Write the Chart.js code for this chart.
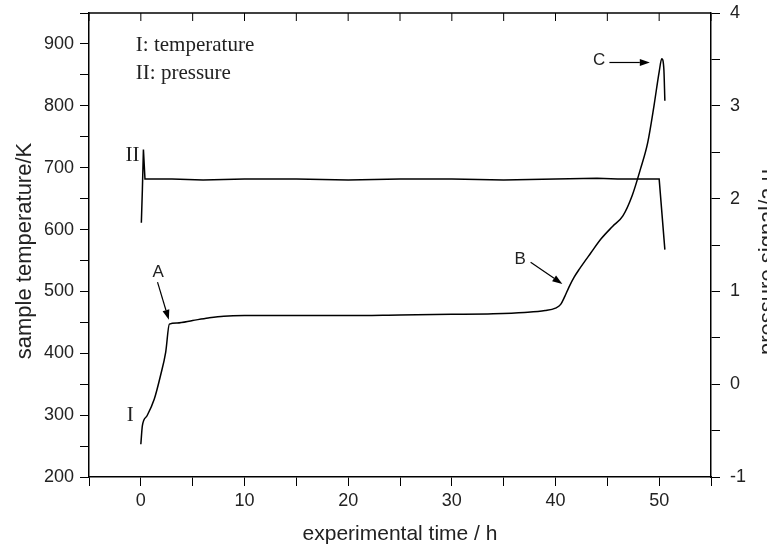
<!DOCTYPE html>
<html><head><meta charset="utf-8">
<script src="https://cdn.jsdelivr.net/npm/chart.js@4.4.0/dist/chart.umd.min.js"></script>
<style>html,body{margin:0;padding:0;background:#fff;overflow:hidden}canvas{display:block}</style>
</head><body><canvas id="c" width="767" height="545"></canvas>
<script>
// ---- data ----
const timeT = [0.0, 0.15, 0.6, 1.3, 1.9, 2.4, 2.75, 3.5, 5, 6.5, 8, 10, 15, 20, 25, 30, 34, 37, 39, 40, 40.5, 40.9, 41.3, 41.8, 42.3, 43.4, 44.4, 45.5, 46.5, 47.4, 48.2, 48.9, 49.5, 50.0, 50.25, 50.45, 50.55];
const tempT = [253, 283, 299, 326, 364, 402, 447, 449, 453, 457, 460, 461, 461, 461, 462, 463, 464, 466, 469, 473, 479, 492, 507, 523, 536, 562, 585, 605, 622, 655, 698, 741, 800, 855, 876, 860, 808];
const timeP = [0.05, 0.15, 0.25, 0.4, 1, 3, 6, 10, 15, 20, 25, 30, 35, 40, 44, 46, 48, 50.0, 50.55];
const pressP = [1.74, 2.1, 2.53, 2.21, 2.21, 2.21, 2.2, 2.21, 2.21, 2.2, 2.21, 2.21, 2.2, 2.21, 2.22, 2.21, 2.21, 2.21, 1.45];
const xTickLabels = [0, 10, 20, 30, 40, 50];
const yTickLabels = [200, 300, 400, 500, 600, 700, 800, 900];
const y2TickLabels = [-1, 0, 1, 2, 3, 4];
const xTitle = 'experimental time / h';
const yTitle = 'sample temperature/K';
const y2Title = 'pressure signal/a.u';
const legendLines = ['I: temperature', 'II: pressure'];

const tempPts = timeT.map((t, i) => ({x: t, y: tempT[i]}));
const pressPts = timeP.map((t, i) => ({x: t, y: pressP[i]}));

const TXT = '#222';
const SANS = '"Liberation Sans", Arial, sans-serif';
const SERIF = '"Liberation Serif", "Times New Roman", serif';

function arrow(ctx, x1, y1, x2, y2) {
  const ang = Math.atan2(y2 - y1, x2 - x1);
  const L = 10, W = 3.5;
  ctx.beginPath(); ctx.moveTo(x1, y1);
  ctx.lineTo(x2 - L * Math.cos(ang), y2 - L * Math.sin(ang)); ctx.stroke();
  ctx.beginPath();
  ctx.moveTo(x2, y2);
  ctx.lineTo(x2 - L * Math.cos(ang) + W * Math.sin(ang), y2 - L * Math.sin(ang) - W * Math.cos(ang));
  ctx.lineTo(x2 - L * Math.cos(ang) - W * Math.sin(ang), y2 - L * Math.sin(ang) + W * Math.cos(ang));
  ctx.closePath(); ctx.fill();
}

const decor = {
  id: 'decor',
  afterDraw(chart) {
    const {ctx, chartArea: a, scales: {x, y, y2}} = chart;
    const X = v => x.getPixelForValue(v), Y = v => y.getPixelForValue(v);
    ctx.save();
    ctx.strokeStyle = '#000'; ctx.fillStyle = '#000';
    ctx.lineWidth = 1.5;
    ctx.beginPath(); ctx.moveTo(a.left, a.top); ctx.lineTo(a.right, a.top); ctx.stroke();
    ctx.lineWidth = 1;
    x.ticks.forEach(t => {
      const px = X(t.value);
      ctx.beginPath(); ctx.moveTo(px, a.top); ctx.lineTo(px, a.top + 8); ctx.stroke();
    });
    // axis titles
    ctx.fillStyle = TXT;
    ctx.textAlign = 'center'; ctx.textBaseline = 'alphabetic';
    ctx.font = '21px ' + SANS;
    ctx.fillText(xTitle, (a.left + a.right) / 2, 540);
    ctx.font = '22px ' + SANS;
    ctx.save(); ctx.translate(31, 251); ctx.rotate(-Math.PI / 2); ctx.fillText(yTitle, 0, 0); ctx.restore();
    ctx.save(); ctx.translate(774, 262); ctx.rotate(-Math.PI / 2); ctx.fillText(y2Title, 0, 0); ctx.restore();
    // legend text
    ctx.textAlign = 'left'; ctx.textBaseline = 'middle';
    ctx.font = '21px ' + SERIF;
    ctx.fillText(legendLines[0], X(-0.48), Y(897));
    ctx.fillText(legendLines[1], X(-0.48), Y(852));
    ctx.textAlign = 'center';
    ctx.fillText('II', X(-0.8), Y(719));
    ctx.fillText('I', X(-1.03), Y(299));
    // point labels
    ctx.font = '17px ' + SANS;
    ctx.fillText('A', X(1.67), Y(531));
    ctx.fillText('B', X(36.6), Y(552));
    ctx.fillText('C', X(44.2), Y(873));
    ctx.fillStyle = '#000'; ctx.lineWidth = 1.2;
    arrow(ctx, X(1.61), Y(515), X(2.7), Y(454));
    arrow(ctx, X(37.6), Y(547), X(40.66), Y(512));
    arrow(ctx, X(45.2), Y(870), X(49.1), Y(870));
    ctx.restore();
  }
};

const tickFont = {family: SANS, size: 18};
const noPadV = s => { s.paddingTop = 0; s.paddingBottom = 0; };
new Chart(document.getElementById('c'), {
  type: 'line',
  data: {
    datasets: [
      {data: tempPts, yAxisID: 'y', borderColor: '#000', borderWidth: 1.5, pointRadius: 0, cubicInterpolationMode: 'monotone', fill: false},
      {data: pressPts, yAxisID: 'y2', borderColor: '#000', borderWidth: 1.5, pointRadius: 0, tension: 0, fill: false}
    ]
  },
  options: {
    responsive: false, animation: false, devicePixelRatio: 1,
    layout: {padding: {top: 13, left: 0, right: 0, bottom: 0}},
    plugins: {legend: {display: false}, tooltip: {enabled: false}},
    scales: {
      x: {
        type: 'linear', min: -5, max: 55,
        ticks: {stepSize: 5, includeBounds: false, autoSkip: false, maxRotation: 0, padding: 4, color: TXT, font: tickFont,
          callback: v => xTickLabels.includes(v) ? String(v) : ''},
        grid: {drawOnChartArea: false, tickLength: 9, tickColor: '#000', tickWidth: 1},
        border: {display: true, color: '#000', width: 1.5},
        afterFit: s => { s.height = 68; s.paddingLeft = 0; s.paddingRight = 0; }
      },
      y: {
        position: 'left', min: 200, max: 950,
        ticks: {stepSize: 50, includeBounds: false, autoSkip: false, padding: 6, color: TXT, font: tickFont,
          callback: v => yTickLabels.includes(v) ? String(v) : ''},
        grid: {drawOnChartArea: false, tickLength: 9, tickColor: '#000', tickWidth: 1},
        border: {display: true, color: '#000', width: 1.5},
        afterFit: s => { s.width = 89; noPadV(s); }
      },
      y2: {
        position: 'right', min: -1, max: 4,
        ticks: {stepSize: 0.5, includeBounds: false, autoSkip: false, padding: 10, color: TXT, font: tickFont,
          callback: v => y2TickLabels.includes(v) ? String(v) : ''},
        grid: {drawOnChartArea: false, tickLength: 9, tickColor: '#000', tickWidth: 1},
        border: {display: true, color: '#000', width: 1.5},
        afterFit: s => { s.width = 56; noPadV(s); }
      }
    }
  },
  plugins: [decor]
});
</script>
</body></html>
